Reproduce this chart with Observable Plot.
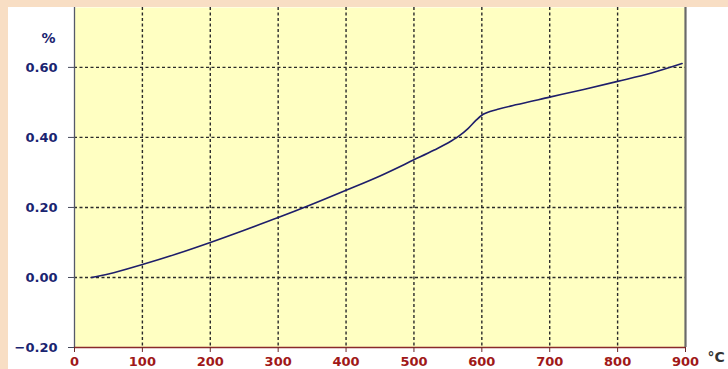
<!DOCTYPE html>
<html>
<head>
<meta charset="utf-8">
<script src="https://cdn.jsdelivr.net/npm/d3@7"></script>
<script src="https://cdn.jsdelivr.net/npm/@observablehq/plot@0.6"></script>
<style>
  html, body { margin: 0; padding: 0; }
  body { width: 728px; height: 369px; overflow: hidden; background: #f8dec4; }
  #wrap { padding: 7px 0 0 8px; }
  #wrap svg { display: block; background: #ffffff; overflow: visible; }
</style>
</head>
<body>
<div id="wrap"></div>
<script>
// Thermal expansion curve: temperature (°C) vs. relative change (%)
const temperature = [25, 50, 100, 150, 200, 250, 300, 350, 400, 450, 500, 530, 550, 565, 580, 592, 602, 612, 625, 650, 700, 750, 800, 850, 895];
const expansion   = [0.000, 0.010, 0.037, 0.067, 0.100, 0.135, 0.171, 0.209, 0.249, 0.290, 0.336, 0.364, 0.384, 0.402, 0.426, 0.450, 0.466, 0.474, 0.481, 0.493, 0.515, 0.537, 0.560, 0.584, 0.611];

const xTicks = [0, 100, 200, 300, 400, 500, 600, 700, 800, 900];
const yTicks = [-0.20, 0.00, 0.20, 0.40, 0.60];
const xGrid = [100, 200, 300, 400, 500, 600, 700, 800];
const yGrid = [0.00, 0.20, 0.40, 0.60];

const curve = temperature.map((t, i) => ({t, v: expansion[i]}));

const chart = Plot.plot({
  width: 720,
  height: 362,
  marginLeft: 66,
  marginRight: 43,
  marginTop: 0,
  marginBottom: 22,
  style: {fontFamily: "DejaVu Sans, Verdana, sans-serif", fontSize: "13px", fontWeight: "bold", background: "#ffffff"},
  x: {domain: [0, 900]},
  y: {domain: [-0.2, 0.771]},
  marks: [
    Plot.frame({fill: "#ffffc2", stroke: "none"}),
    Plot.ruleX(xGrid, {stroke: "#2a2a2a", strokeWidth: 1.4, strokeDasharray: "3,2.5"}),
    Plot.ruleY(yGrid, {x1: 0, x2: 900, stroke: "#2a2a2a", strokeWidth: 1.4, strokeDasharray: "3,2.5"}),
    Plot.ruleX([0], {stroke: "#55596a", strokeWidth: 1.3}),
    Plot.ruleX([900], {stroke: "#6a6a6a", strokeWidth: 2.2}),
    Plot.ruleY([-0.2], {stroke: "#8a2a2a", strokeWidth: 1.4}),
    Plot.axisY({ticks: yTicks, tickFormat: d3.format(".2f"), tickSize: 6, tickPadding: 11, stroke: "#44485a", fill: "#1a2470", label: null}),
    Plot.axisX({ticks: xTicks, tickFormat: d3.format("d"), tickSize: 5, tickPadding: 4, stroke: "#6a2a2a", fill: "#a01818", label: null}),
    Plot.line(curve, {x: "t", y: "v", curve: "monotone-x", stroke: "#1e1e6a", strokeWidth: 1.6}),
    Plot.text(["%"], {frameAnchor: "top-left", dx: -26, dy: 26, fill: "#1a2470", textAnchor: "middle", fontSize: 14}),
    Plot.text(["°C"], {frameAnchor: "bottom-right", dx: 22, dy: 14, fill: "#333333", textAnchor: "start", fontSize: 14})
  ]
});
document.getElementById("wrap").appendChild(chart);
</script>
</body>
</html>
